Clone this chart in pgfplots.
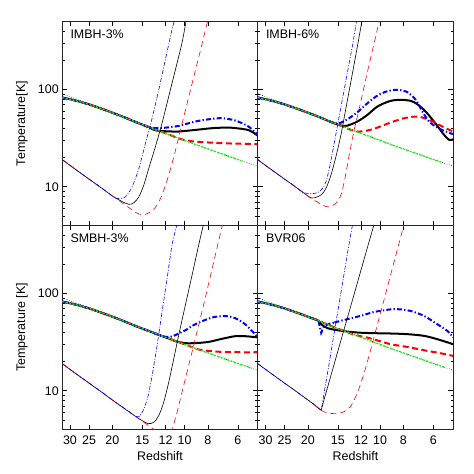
\documentclass[border=0pt]{standalone}
\usepackage{fontspec}
\setmainfont{Liberation Sans}
\usepackage{pgfplots}
\pgfplotsset{compat=1.18}

\newcommand{\lab}{\fontsize{12.5}{14}\selectfont}

\pgfplotsset{
  panel/.style={
    scale only axis, width=195.5bp, height=204bp,
    anchor=south west,
    x dir=reverse,
    xmin=4.96, xmax=32.3, ymin=4, ymax=500,
    xtick={6,8,10,12,15,20,25,30},
    xticklabels={6,8,10,12,15,20,25,30},
    ytick={10,100}, yticklabels={10,100},
    minor ytick={4,5,6,7,8,9,20,30,40,50,60,70,80,90,200,300,400,500},
    major tick length=5bp, minor tick length=2.5bp,
    tick style={black, line width=0.6bp},
    axis line style={black!85, line width=0.8bp},
    xticklabel style={yshift=-3bp},
    tick label style={font=\lab},
    /pgf/number format/assume math mode=true,
    every axis x label/.style={at={(axis description cs:0.5,-0.132)}, anchor=center, font=\lab},
    every axis y label/.style={at={(axis description cs:-0.206,0.5)}, rotate=90, anchor=center, font=\lab},
  },
  cmb/.style={black, line width=0.6bp, dash pattern=on 0.6bp off 1.8bp},
  grn/.style={green, line width=1.2bp, dash pattern=on 2bp off 1.5bp},
  tkk/.style={black, line width=2bp},
  tkr/.style={red, line width=2bp, dash pattern=on 6bp off 3.5bp},
  tkb/.style={blue, line width=2bp, dash pattern=on 5bp off 2.2bp on 1.3bp off 2.2bp},
  tnk/.style={black, line width=0.6bp},
  tnr/.style={red, line width=0.6bp, dash pattern=on 6bp off 4bp},
  tnb/.style={blue, line width=0.6bp, dash pattern=on 4bp off 1.6bp on 1bp off 1.6bp},
}

\begin{document}
\begin{tikzpicture}
\useasboundingbox (0,0) rectangle (474bp,474bp);

% ---------------- IMBH-3% ----------------
\begin{loglogaxis}[panel, at={(62.3bp,248.5bp)}, xticklabels=\empty, ylabel={Temperature[K]}]
\addplot[cmb] coordinates {(32.3,90.7) (30,84.5) (27.5,77.7) (25,70.8) (22.5,64.0) (20,57.2) (17.5,50.4) (15,43.6) (13.5,39.5) (12,35.4) (11,32.7) (10,30.0) (9,27.2) (8,24.5) (7,21.8) (6,19.1) (5.5,17.7) (4.96,16.24)};
\addplot[tkk, smooth] coordinates {(32.3,82.5) (30,79.5) (27.5,75.2) (25,70.3) (22.5,64.3) (20,57.8) (18,52.3) (17,49.3) (16,46.3) (15,43.6) (14,40.9) (13.66,39.2) (13.0,37.8) (12.42,37.4) (11.29,37.0) (10.59,37.0) (9.03,38.4) (7.70,40.0) (6.57,40.6) (5.78,39.4) (5.42,38.2) (5.15,35.8) (4.96,33.4)};
\addplot[tkr, smooth] coordinates {(32.3,82.5) (30,79.5) (27.5,75.2) (25,70.3) (22.5,64.3) (20,57.8) (18,52.3) (17,49.3) (16,46.3) (15,43.6) (14,40.9) (13,38.2) (12,35.4) (11.29,33.5) (10.59,31.4) (9.8,29.9) (9.03,29.1) (7.70,28.4) (6.57,27.9) (5.5,27.6) (4.96,27.4)};
\addplot[tkb, smooth] coordinates {(32.3,82.5) (30,79.5) (27.5,75.2) (25,70.3) (22.5,64.3) (20,57.8) (18,52.3) (17,49.3) (16,46.3) (15,43.6) (14.2,41.0) (13.23,40.1) (12.42,40.2) (10.59,42.2) (9.03,46.9) (7.70,49.9) (7.0,50.7) (6.16,48.0) (5.42,41.6) (4.96,34.2)};
\addplot[grn] coordinates {(32.3,82.5) (30,79.5) (27.5,75.2) (25,70.3) (22.5,64.3) (20,57.8) (18,52.3) (17,49.3) (16,46.3) (15,43.6) (14,40.9) (13,38.2) (12,35.4) (11,32.7) (10,30.0) (9,27.2) (8,24.5) (7,21.8) (6,19.1) (5.8,18.5)};
\addplot[tnk, smooth] coordinates {(32.3,19.0) (30,16.6) (27.5,14.2) (25,12.0) (22.5,9.97) (20,8.05) (19.39,7.67) (18.2,7.05) (17.07,6.6) (16.27,6.85) (15.5,7.9) (14.79,10.4) (14.1,15.5) (13.23,25.9) (12.42,45.0) (11.65,84.7) (10.93,159) (10.26,300) (9.87,500) (9.8,540)};
\addplot[tnr, smooth] coordinates {(32.3,19.0) (30,16.6) (27.5,14.2) (25,12.0) (22.5,9.97) (20,8.05) (19.39,7.67) (18,6.7) (17,6.06) (16,5.45) (15.5,5.25) (14.56,5.2) (13.66,5.7) (13.02,6.5) (12.42,8.25) (11.76,12.2) (11.04,21.3) (10.36,40) (9.72,75.3) (9.12,141) (8.55,266) (8.03,500) (7.95,540)};
\addplot[tnb, smooth] coordinates {(32.3,19.0) (30,16.6) (27.5,14.2) (25,12.0) (22.5,9.97) (20,8.05) (19.39,7.67) (18.6,7.55) (17.9,7.7) (17.35,8.25) (16.54,10.0) (15.5,15.5) (14.56,28.0) (13.66,50.7) (12.82,99) (12.03,202) (11.29,411) (11.0,520)};
\node[anchor=north west, inner sep=0pt, font=\lab] at (rel axis cs:0.041,0.961) {IMBH-3\%};
\end{loglogaxis}

% ---------------- IMBH-6% ----------------
\begin{loglogaxis}[panel, at={(257.8bp,248.5bp)}, xticklabels=\empty, yticklabels=\empty]
\addplot[cmb] coordinates {(32.3,90.7) (30,84.5) (27.5,77.7) (25,70.8) (22.5,64.0) (20,57.2) (17.5,50.4) (15,43.6) (13.5,39.5) (12,35.4) (11,32.7) (10,30.0) (9,27.2) (8,24.5) (7,21.8) (6,19.1) (5.5,17.7) (4.96,16.24)};
\addplot[tkk, smooth] coordinates {(32.3,82.5) (30,79.5) (27.5,75.2) (25,70.3) (22.5,64.3) (20,57.8) (18,52.3) (17,49.3) (16,46.3) (15,43.6) (14.3,42.3) (13.66,42.6) (12.42,46.9) (11.29,54.9) (10.26,66.8) (9.03,76.5) (7.95,78.3) (7.23,74.1) (6.57,61.8) (5.97,46.9) (5.42,34.2) (5.15,30.3) (4.96,30.8)};
\addplot[tkr, smooth] coordinates {(32.3,82.5) (30,79.5) (27.5,75.2) (25,70.3) (22.5,64.3) (20,57.8) (18,52.3) (17,49.3) (16,46.3) (15,43.6) (14,40.9) (13.66,39.6) (12.42,37.0) (11.29,37.9) (10.26,40.6) (9.03,45.8) (7.95,50.7) (7.0,52.7) (6.36,49.5) (5.78,44.3) (5.34,40.0) (4.96,37.0)};
\addplot[tkb, smooth] coordinates {(32.3,82.5) (30,79.5) (27.5,75.2) (25,70.3) (22.5,64.3) (20,57.8) (18,52.3) (17,49.3) (16,46.3) (15.03,44.6) (14.33,46.5) (13.66,49.5) (12.42,58.5) (11.29,72.3) (10.26,86.7) (9.32,96.1) (8.47,99.2) (7.70,93.9) (7.11,78.3) (6.67,59.4) (6.26,46.9) (5.78,40.6) (5.34,37.0) (4.96,34.7)};
\addplot[grn] coordinates {(32.3,82.5) (30,79.5) (27.5,75.2) (25,70.3) (22.5,64.3) (20,57.8) (18,52.3) (17,49.3) (16,46.3) (15,43.6) (14,40.9) (13,38.2) (12,35.4) (11,32.7) (10,30.0) (9,27.2) (8,24.5) (7,21.8) (6,19.1) (5.5,17.7)};
\addplot[tnk, smooth] coordinates {(32.3,19.0) (30,16.6) (27.5,14.2) (25,12.0) (22.5,9.97) (20,8.05) (19.5,7.74) (18.8,7.7) (17.6,8.25) (16.8,9.66) (16.02,13.2) (15.27,20.5) (14.56,34.2) (13.88,64.3) (13.23,121) (12.62,227) (11.91,500) (11.8,540)};
\addplot[tnr, smooth] coordinates {(32.3,19.0) (30,16.6) (27.5,14.2) (25,12.0) (22.5,9.97) (20,8.05) (19,7.35) (18.2,6.95) (17.35,6.45) (16.27,6.2) (15.27,6.8) (14.56,8.25) (14.02,12.2) (13.45,21.3) (12.82,38.4) (12.03,75.3) (11.29,153) (10.59,300) (10.1,500) (10.0,540)};
\addplot[tnb, smooth] coordinates {(32.3,19.0) (30,16.6) (27.5,14.2) (25,12.0) (22.5,9.97) (21,8.8) (20,8.55) (19,8.5) (18.2,8.7) (17.35,9.66) (16.8,11.3) (16.27,15.5) (15.77,23.0) (15.03,43.3) (14.33,81.5) (13.66,153) (13.02,288) (12.54,500) (12.45,540)};
\node[anchor=north west, inner sep=0pt, font=\lab] at (rel axis cs:0.041,0.961) {IMBH-6\%};
\end{loglogaxis}

% ---------------- SMBH-3% ----------------
\begin{loglogaxis}[panel, at={(62.3bp,44.5bp)}, xlabel={Redshift}, ylabel={Temperature [K]}]
\addplot[cmb] coordinates {(32.3,90.7) (30,84.5) (27.5,77.7) (25,70.8) (22.5,64.0) (20,57.2) (17.5,50.4) (15,43.6) (13.5,39.5) (12,35.4) (11,32.7) (10,30.0) (9,27.2) (8,24.5) (7,21.8) (6,19.1) (5.5,17.7) (4.96,16.24)};
\addplot[tkk, smooth] coordinates {(32.3,82.5) (30,79.5) (27.5,75.2) (25,70.3) (22.5,64.3) (20,57.8) (18,52.3) (17,49.3) (16,46.3) (15,43.6) (14,40.9) (13,38.2) (12,35.4) (11.29,33.5) (10.93,32.3) (9.94,30.9) (9.03,30.9) (7.95,31.8) (7.0,34.2) (6.16,36.4) (5.6,36.4) (4.96,35.4)};
\addplot[tkr, smooth] coordinates {(32.3,82.5) (30,79.5) (27.5,75.2) (25,70.3) (22.5,64.3) (20,57.8) (18,52.3) (17,49.3) (16,46.3) (15,43.6) (14,40.9) (13,38.2) (12,35.4) (11,32.7) (10,30.0) (9.66,29.1) (8.75,26.6) (7.95,25.7) (7.0,25.1) (5.97,24.9) (4.96,24.9)};
\addplot[tkb, smooth] coordinates {(32.3,82.5) (30,79.5) (27.5,75.2) (25,70.3) (22.5,64.3) (20,57.8) (18,52.3) (17,49.3) (16,46.3) (15,43.6) (14,40.9) (13.5,39.4) (12.82,37.4) (12.03,35.9) (11.29,36.1) (10.59,38.8) (9.9,42.0) (9.03,48.3) (7.70,56.6) (6.78,58.6) (6.16,55.8) (5.6,48.3) (5.17,39.7) (4.96,35.4)};
\addplot[grn] coordinates {(32.3,82.5) (30,79.5) (27.5,75.2) (25,70.3) (22.5,64.3) (20,57.8) (18,52.3) (17,49.3) (16,46.3) (15,43.6) (14,40.9) (13,38.2) (12,35.4) (11,32.7) (10,30.0) (9,27.2) (8,24.5) (7,21.8) (6,19.1) (5.3,17.2)};
\addplot[tnk, smooth] coordinates {(32.3,19.0) (30,16.6) (27.5,14.2) (25,12.0) (22.5,9.97) (20,8.05) (19,7.35) (18,6.7) (17,6.06) (16,5.45) (15.03,4.94) (14.19,4.6) (13.45,4.74) (12.82,5.55) (12.22,7.62) (11.65,12.2) (11.1,21.3) (10.59,37.0) (9.94,75.3) (9.32,153) (8.75,311) (8.37,500) (8.3,540)};
\addplot[tnr, smooth] coordinates {(32.3,19.0) (30,16.6) (27.5,14.2) (25,12.0) (22.5,9.97) (20,8.05) (19,7.35) (18,6.7) (17,6.06) (16,5.45) (15,4.87) (14,4.32) (13.4,4.0) (13,3.8) (12.4,3.55) (11.8,3.7) (11.29,4.02) (10.76,6.0) (10.26,9.66) (9.62,18.2) (9.03,34.2) (8.48,64.3) (7.95,126) (7.46,246) (6.95,517) (6.9,540)};
\addplot[tnb, smooth] coordinates {(32.3,19.0) (30,16.6) (27.5,14.2) (25,12.0) (22.5,9.97) (20,8.05) (19,7.35) (18,6.7) (17,6.06) (16.27,5.64) (15.5,5.4) (14.79,6.5) (14.19,8.9) (13.66,14.3) (13.02,29.2) (12.42,64.3) (11.84,141) (11.29,311) (10.76,517) (10.7,540)};
\node[anchor=north west, inner sep=0pt, font=\lab] at (rel axis cs:0.041,0.961) {SMBH-3\%};
\end{loglogaxis}

% ---------------- BVR06 ----------------
\begin{loglogaxis}[panel, at={(257.8bp,44.5bp)}, xlabel={Redshift}, yticklabels=\empty]
\addplot[cmb] coordinates {(32.3,90.7) (30,84.5) (27.5,77.7) (25,70.8) (22.5,64.0) (20,57.2) (17.5,50.4) (15,43.6) (13.5,39.5) (12,35.4) (11,32.7) (10,30.0) (9,27.2) (8,24.5) (7,21.8) (6,19.1) (5.5,17.7) (4.96,16.24)};
\addplot[tkk, smooth] coordinates {(32.3,82.5) (30,79.5) (27.5,75.2) (25,70.3) (22.5,64.3) (20,57.8) (18,52.3) (17.6,48.3) (16.5,43.9) (14.56,41.4) (12.42,39.7) (10.59,39.1) (9.03,38.8) (7.70,38.2) (6.57,36.7) (5.78,33.9) (4.96,30.1)};
\addplot[tkr, smooth] coordinates {(32.3,82.5) (30,79.5) (27.5,75.2) (25,70.3) (22.5,64.3) (20,57.8) (18,52.3) (17,49.3) (16,46.3) (15,43.6) (14,40.9) (13,38.2) (12.03,36.3) (11.29,35.2) (10.26,32.9) (9.03,30.1) (7.70,28.2) (6.57,26.1) (5.6,24.3) (4.96,22.8)};
\addplot[tkb, smooth] coordinates {(32.3,82.5) (30,79.5) (27.5,75.2) (25,70.3) (22.5,64.3) (20,57.8) (18,52.3)};
\addplot[tkb] coordinates {(18,52.3) (17.96,49.2) (17.6,39.4) (17.13,46.0) (16.3,48.8) (15.5,50.3)};
\addplot[tkb, smooth] coordinates {(15.5,50.3) (13.66,54.6) (12.03,58.9) (10.59,64.6) (9.03,68.7) (8.21,68.7) (7.46,66.1) (6.57,58.9) (5.78,48.3) (5.26,41.4) (4.96,35.3)};
\addplot[grn] coordinates {(32.3,82.5) (30,79.5) (27.5,75.2) (25,70.3) (22.5,64.3) (20,57.8) (18,52.3) (17,49.3) (16,46.3) (15,43.6) (14,40.9) (13,38.2) (12,35.4) (11,32.7) (10,30.0) (9,27.2) (8,24.5) (7,21.8) (6,19.1) (5.35,17.3)};
\addplot[tnk] coordinates {(32.3,19.0) (30,16.6) (27.5,14.2) (25,12.0) (22.5,9.97) (20,8.05) (19,7.35) (17.6,6.3) (17.07,8.3) (16.02,14.4) (14.56,33.0) (13.23,75.3) (12.03,172) (10.93,395) (10.59,517) (10.5,560)};
\addplot[tnr, smooth] coordinates {(19,7.35) (17.6,6.3) (17.07,6.06) (16.27,5.87) (15.03,5.84) (14.1,6.12) (13.23,6.99) (12.42,9.6) (11.65,15.35) (10.93,26.8) (10.26,48.3) (9.62,87.4) (9.03,158) (8.47,286) (7.95,517) (7.9,560)};
\addplot[tnb] coordinates {(32.3,19.0) (30,16.6) (27.5,14.2) (25,12.0) (22.5,9.97) (20,8.05) (19,7.35) (17.6,6.3) (16.5,16.0) (15.5,40.6) (14.56,102) (13.66,264) (13.02,517) (12.9,560)};
\node[anchor=north west, inner sep=0pt, font=\lab] at (rel axis cs:0.041,0.961) {BVR06};
\end{loglogaxis}
\end{tikzpicture}
\end{document}
